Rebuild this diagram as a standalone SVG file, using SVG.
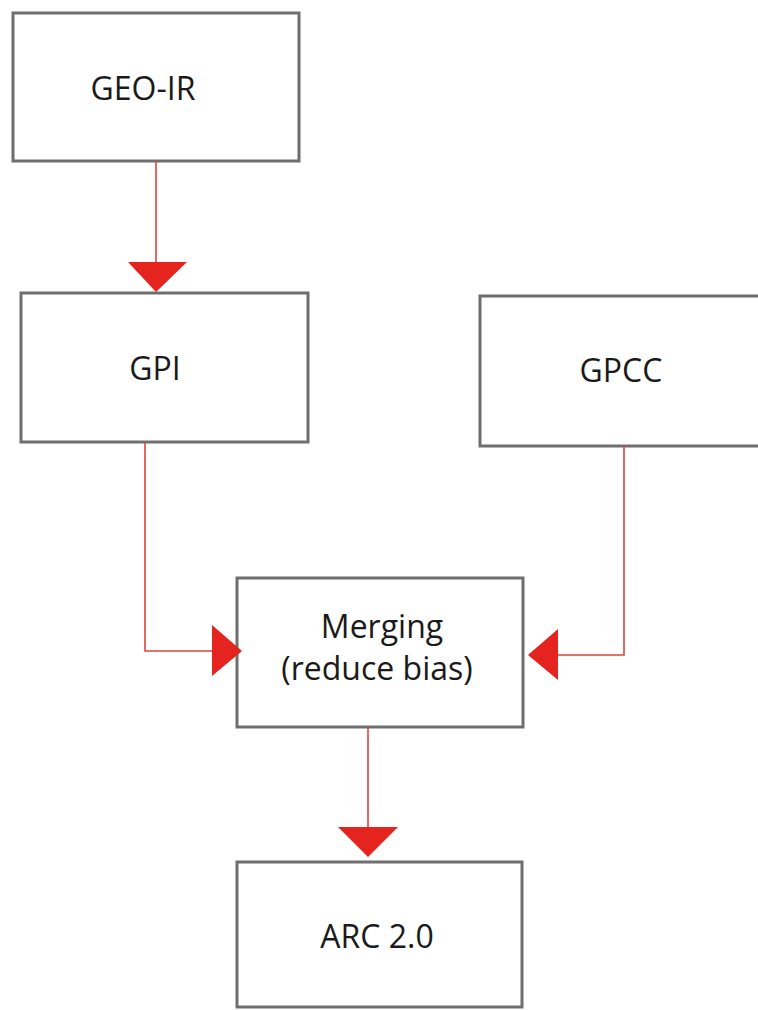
<svg xmlns="http://www.w3.org/2000/svg" width="758" height="1010" viewBox="0 0 758 1010">
<style>
.box{fill:#ffffff;stroke:#6e6e6e;stroke-width:3}
.lbl{font-family:"Open Sans","Liberation Sans",sans-serif;font-size:32px;fill:#1a1a1a;text-anchor:middle}
.conn{fill:none;stroke:#d9463e;stroke-width:1.6}
.head{fill:#e5231f}
</style>
<rect width="758" height="1010" fill="#ffffff"/>
<g id="geo-ir"><rect class="box" x="13" y="13" width="286" height="148"/><text class="lbl" x="143" y="100">GEO-IR</text></g>
<g id="gpi"><rect class="box" x="21" y="293" width="287" height="149"/><text class="lbl" x="155" y="380">GPI</text></g>
<g id="gpcc"><rect class="box" x="480" y="296" width="300" height="150"/><text class="lbl" x="621" y="382">GPCC</text></g>
<g id="merging"><rect class="box" x="237" y="578" width="286" height="149"/><text class="lbl" x="382" y="638">Merging</text><text class="lbl" x="377" y="680">(reduce bias)</text></g>
<g id="arc"><rect class="box" x="237" y="862" width="285" height="145"/><text class="lbl" x="377" y="948">ARC 2.0</text></g>
<g id="connectors">
<path class="conn" d="M156 161V263"/>
<polygon class="head" points="128,262 187,262 156,292"/>
<path class="conn" d="M145 442V651H213"/>
<polygon class="head" points="212,625 212,676 242,651"/>
<path class="conn" d="M624 446V655H557"/>
<polygon class="head" points="558,629 558,680 528,655"/>
<path class="conn" d="M368 727V828"/>
<polygon class="head" points="338,827 398,827 368,857"/>
</g>
</svg>
